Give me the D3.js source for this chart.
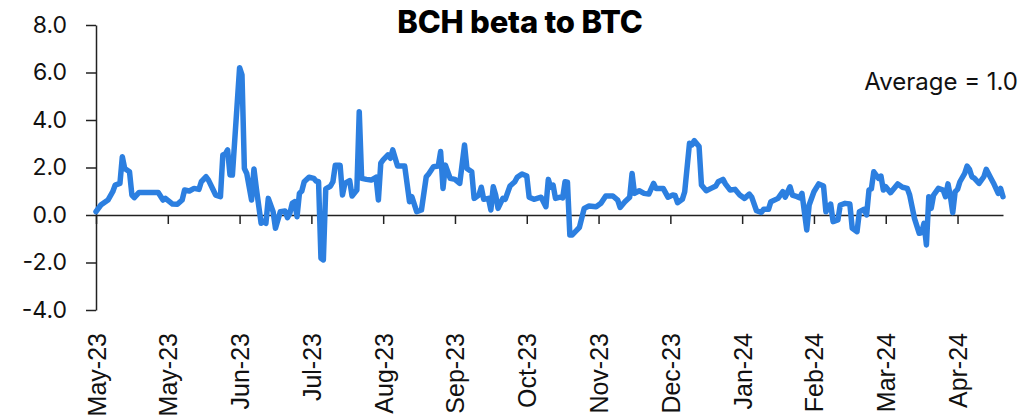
<!DOCTYPE html>
<html>
<head>
<meta charset="utf-8">
<script src="https://cdn.jsdelivr.net/npm/d3@7/dist/d3.min.js"></script>
<style>
  html, body { margin: 0; padding: 0; background: #fff; }
  svg { display: block; }
</style>
</head>
<body>
<svg id="chart" width="1028" height="419"></svg>
<script>
// ---------------- data ----------------
const startDate = "2023-05-01";
const lastDayOffset = 379;
const dayOffsets = [
  0,2,5,7,8,10,11,12,14,15,16,18,26,28,29,32,34,36,37,39,41,43,44,46,47,49,50,52,53,54,55,56,57,60,61,62,63,65,66,67,69,70,71,72,74,75,77,79,80,81,82,83,84,85,86,87,89,91,92,93,94,95,96,98,99,
  100,102,103,104,106,107,109,110,111,113,115,117,118,119,120,122,123,124,126,129,131,132,134,136,138,139,141,143,144,145,146,148,150,152,154,155,157,158,160,161,162,164,165,166,167,168,170,171,173,175,176,178,180,181,183,186,188,189,190,191,192,194,195,196,197,198,199,
  201,202,204,206,209,211,213,216,218,219,221,223,224,225,227,229,231,233,234,237,239,241,242,243,245,246,248,249,250,252,253,255,257,259,260,262,263,265,267,269,271,273,274,276,278,279,281,282,285,287,288,290,291,293,294,295,297,
  298,300,302,304,305,307,308,310,311,313,315,316,318,319,321,322,323,324,325,327,328,329,330,332,335,337,339,340,342,344,345,346,347,348,349,350,352,354,355,356,357,358,359,360,361,363,364,365,366,367,369,371,372,374,375,377,378,379
];
const betaValues = [
  0.14,0.42,0.63,0.98,1.26,1.33,2.45,1.96,1.82,0.84,0.73,0.95,0.95,0.63,0.70,0.46,0.45,0.63,1.05,1.01,1.12,1.08,1.40,1.61,1.47,1.05,0.84,0.77,2.53,2.56,2.74,1.68,1.68,6.20,5.90,1.96,1.75,0.63,1.94,1.12,-0.35,-0.28,-0.35,0.70,0.14,-0.56,0.14,0.17,-0.11,0.07,0.49,0.56,-0.07,0.91,1.01,1.40,1.59,1.54,1.43,1.40,-1.82,-1.89,1.10,1.22,1.40,
  2.10,2.10,0.84,1.33,1.45,0.80,1.05,4.35,1.54,1.50,1.47,1.59,0.63,2.18,2.32,2.53,2.39,2.74,2.06,2.06,0.56,0.77,0.14,0.21,1.61,1.73,2.03,2.06,2.67,1.12,2.10,1.54,1.50,1.33,2.95,1.96,1.82,0.70,0.84,1.17,0.66,0.70,0.21,1.19,0.84,0.28,0.70,0.66,1.22,1.40,1.59,1.73,1.64,0.75,0.66,0.75,0.35,1.50,1.17,1.26,0.70,0.75,0.72,1.40,1.38,-0.84,-0.84,
  -0.63,-0.52,0.28,0.38,0.35,0.49,0.80,0.80,0.63,0.32,0.56,0.75,1.75,0.91,1.02,0.91,0.88,1.33,1.12,1.12,0.75,0.84,0.82,0.52,0.66,0.98,3.02,2.95,3.13,2.88,1.26,1.02,1.12,1.22,1.40,1.50,1.31,1.05,1.08,0.84,0.70,0.88,0.75,0.18,0.11,0.24,0.24,0.56,0.70,0.98,0.75,1.19,0.84,0.77,0.72,0.91,-0.63,
  0.42,0.98,1.31,1.22,0.14,0.46,-0.28,-0.21,0.42,0.49,0.46,-0.56,-0.70,0.14,0.24,0.00,1.05,1.10,1.82,1.54,1.64,1.05,1.19,0.94,1.31,1.17,1.12,0.84,-0.14,-0.77,-0.74,-0.35,-1.26,0.77,0.28,0.84,1.12,1.05,0.77,1.31,0.80,0.10,0.98,1.08,1.40,1.75,2.06,1.92,1.61,1.55,1.33,1.61,1.92,1.54,1.35,0.91,1.12,0.77
];
const xTickDayOffsets = [0,30,60,90,120,150,180,210,240,270,300,330,360];
const xTickLabels = ["May-23","May-23","Jun-23","Jul-23","Aug-23","Sep-23","Oct-23","Nov-23","Dec-23","Jan-24","Feb-24","Mar-24","Apr-24"];
const yTickValues = [-4,-2,0,2,4,6,8];
const titleText = "BCH beta to BTC";
const averageText = "Average = 1.0";

// ---------------- drawing ----------------
const svg = d3.select("#chart");
const parse = d3.timeParse("%Y-%m-%d");
const t0 = parse(startDate);
const toDate = d => d3.timeDay.offset(t0, d);

const x = d3.scaleTime()
  .domain([t0, toDate(lastDayOffset)])
  .range([96, 1003]);
const y = d3.scaleLinear().domain([-4, 8]).range([310, 25]);

const points = dayOffsets.map((d, i) => ({ date: toDate(d), v: betaValues[i] }));

// Title
svg.append("text")
  .attr("x", 520).attr("y", 33)
  .attr("text-anchor", "middle")
  .style("font-family", "Inter, 'Liberation Sans', sans-serif")
  .style("font-weight", "800")
  .style("font-size", "31px")
  .style("letter-spacing", "-0.2px")
  .attr("fill", "#000")
  .text(titleText);

// Average annotation
svg.append("text")
  .attr("x", 1018).attr("y", 90)
  .attr("text-anchor", "end")
  .style("font-family", "Inter, sans-serif")
  .style("font-size", "24px")
  .attr("fill", "#111")
  .text(averageText);

// Y axis
const yAxis = svg.append("g")
  .attr("transform", "translate(96,0)")
  .call(d3.axisLeft(y).tickValues(yTickValues).tickSize(10).tickSizeOuter(0).tickPadding(19)
    .tickFormat(d => d.toFixed(1)));
yAxis.select(".domain").attr("stroke", "#222").attr("stroke-width", 1.5);
yAxis.selectAll(".tick line").attr("stroke", "#222").attr("stroke-width", 1.5);
yAxis.selectAll(".tick text")
  .style("font-family", "Inter, sans-serif")
  .style("font-size", "23px")
  .attr("fill", "#111");

// X axis at y = 0
const xAxis = svg.append("g")
  .attr("transform", `translate(0,${y(0)})`)
  .call(d3.axisBottom(x).tickValues(xTickDayOffsets.map(toDate)).tickSize(9).tickSizeOuter(0)
    .tickFormat((d, i) => xTickLabels[i]));
xAxis.select(".domain").attr("stroke", "#222").attr("stroke-width", 1.5);
xAxis.selectAll(".tick line").attr("stroke", "#222").attr("stroke-width", 1.5);
xAxis.selectAll(".tick text")
  .attr("x", 0).attr("y", 0).attr("dy", "0.36em")
  .attr("text-anchor", "end")
  .attr("transform", `translate(0,${333 - y(0)}) rotate(-90)`)
  .style("font-family", "'Liberation Sans', Arial, sans-serif")
  .style("font-size", "25px")
  .attr("fill", "#111");

// Line
const line = d3.line().x(d => x(d.date)).y(d => y(d.v));
svg.append("path")
  .datum(points)
  .attr("d", line)
  .attr("fill", "none")
  .attr("stroke", "#2c7fe0")
  .attr("stroke-width", 5.5)
  .attr("stroke-linejoin", "round")
  .attr("stroke-linecap", "round");
</script>
</body>
</html>
